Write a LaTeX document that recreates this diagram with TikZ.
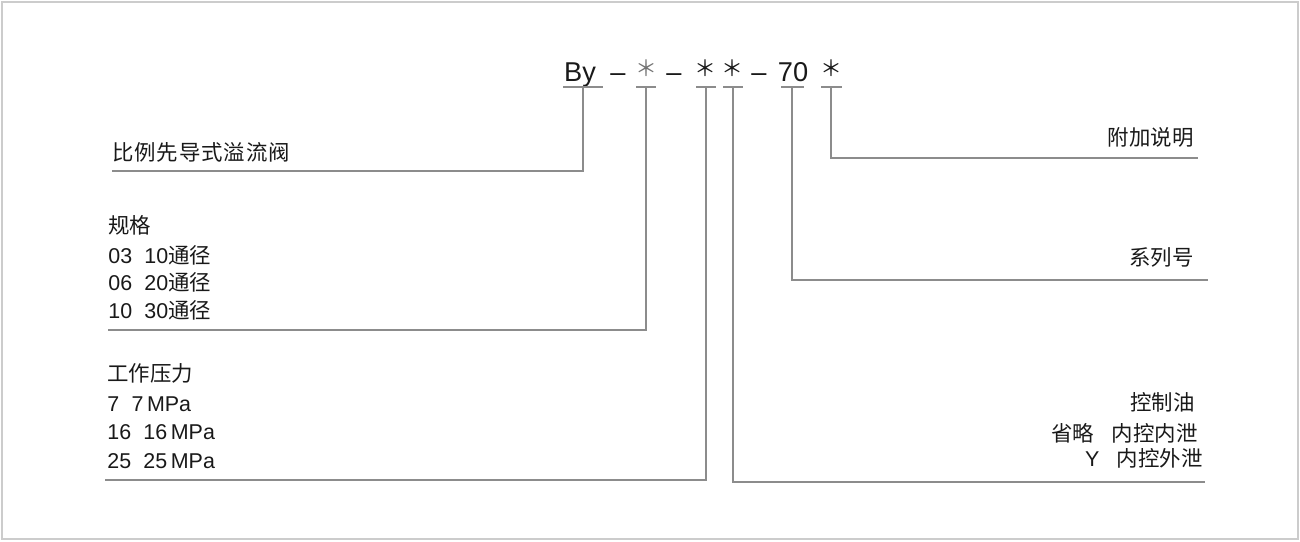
\documentclass[tikz,border=0pt]{standalone}
\usepackage{fontspec}
\setmainfont{Liberation Sans}
\newfontfamily\cjk{Noto Sans CJK SC}
\usetikzlibrary{positioning}

\begin{document}
\begin{tikzpicture}[
    x=0.02cm, y=-0.02cm,
    code/.style={anchor=base, inner sep=0pt, text=black!90, font=\fontsize{15.5}{17}\selectfont},
    starmark/.style={anchor=center, inner sep=0pt, text=black!90, font=\cjk\fontsize{12.5}{14}\selectfont},
    labl/.style={anchor=base west, inner sep=0pt, text=black!90, font=\fontsize{12.2}{14}\selectfont},
    labr/.style={anchor=base east, inner sep=0pt, text=black!90, font=\fontsize{12.2}{14}\selectfont},
    lead/.style={draw=black!45, line width=0.8pt}
]

\useasboundingbox (0,0) rectangle (1300,541);
\draw[black!20, line width=1.5pt] (2,2) rectangle (1298,539);

% Model code
\node[code] (by) at (580,81) {By};
\node[code] (d1) at (618,81) {–};
\node[starmark, text=black!55] (st1) at (646,68) {＊};
\node[code] (d2) at (674,81) {–};
\node[starmark] (st2) at (705,68) {＊};
\node[starmark] (st3) at (732,68) {＊};
\node[code] (d3) at (759,81) {–};
\node[code] (ser) at (793,81) {70};
\node[starmark] (st4) at (831,68) {＊};

% Underlines below each code field
\foreach \a/\b in {563/603, 636/656, 696/716, 723/743, 781/804, 821/842}
    \draw[lead] (\a,87) -- (\b,87);

\coordinate (u1) at (583,87);
\coordinate (u2) at (646,87);
\coordinate (u3) at (706,87);
\coordinate (u4) at (733,87);
\coordinate (u5) at (792,87);
\coordinate (u6) at (831,87);

% Left labels
\node[labl] (valve) at (112,160) {\cjk\addfontfeature{LetterSpace=4} 比例先导式溢流阀};

\node[labl] (size) at (108,233) {\cjk 规格};
\node[labl] (size1) at (108,263) {03\hspace{7pt}10{\cjk 通径}};
\node[labl] (size2) at (108,290) {06\hspace{7pt}20{\cjk 通径}};
\node[labl] (size3) at (108,318) {10\hspace{7pt}30{\cjk 通径}};

\node[labl] (press) at (107,381) {\cjk 工作压力};
\node[labl] (press1) at (107,411) {7\hspace{7pt}7\,MPa};
\node[labl] (press2) at (107,439) {16\hspace{7pt}16\,MPa};
\node[labl] (press3) at (107,468) {25\hspace{7pt}25\,MPa};

% Right labels
\node[labr] (extra) at (1194,145) {\cjk 附加说明};
\node[labr] (series) at (1194,265) {\cjk 系列号};
\node[labr] (oil) at (1195,410) {\cjk 控制油};
\node[labr] (oil1) at (1198,441) {{\cjk 省略}\hspace{10pt}{\cjk 内控内泄}};
\node[labr] (oil2) at (1203,466) {Y\hspace{10pt}{\cjk 内控外泄}};

% Leader line ends
\coordinate (e1) at (112,171);
\coordinate (e2) at (108,330);
\coordinate (e3) at (105,480);
\coordinate (e4) at (1205,482);
\coordinate (e5) at (1208,280);
\coordinate (e6) at (1198,158);

\draw[lead] (u1) |- (e1);
\draw[lead] (u2) |- (e2);
\draw[lead] (u3) |- (e3);
\draw[lead] (u4) |- (e4);
\draw[lead] (u5) |- (e5);
\draw[lead] (u6) |- (e6);

\end{tikzpicture}
\end{document}
